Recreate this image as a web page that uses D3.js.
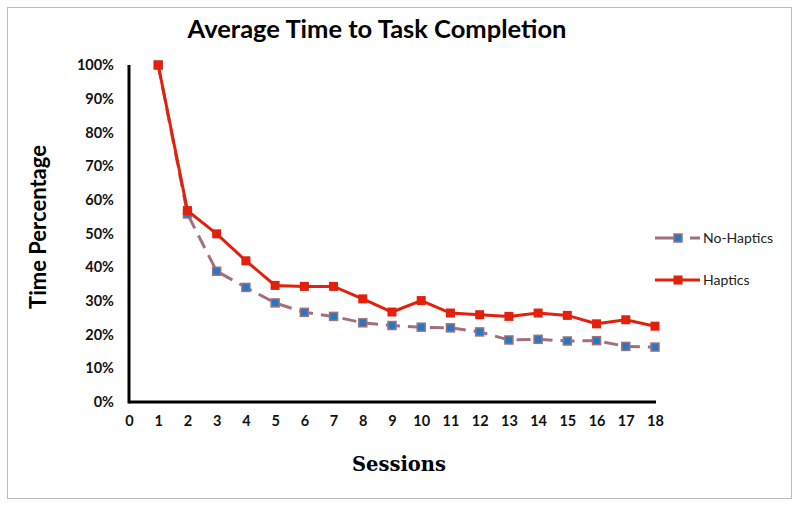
<!DOCTYPE html>
<html>
<head>
<meta charset="utf-8">
<script src="https://cdn.jsdelivr.net/npm/d3@7/dist/d3.min.js"></script>
<style>
  html, body { margin: 0; padding: 0; background: #fff; }
  svg { display: block; }
</style>
</head>
<body>
<svg id="chart" width="800" height="507"></svg>
<script>
const sessions = [1,2,3,4,5,6,7,8,9,10,11,12,13,14,15,16,17,18];
const haptics = [100,56.8,49.9,41.9,34.6,34.3,34.3,30.6,26.7,30.1,26.4,25.9,25.4,26.4,25.7,23.2,24.4,22.5];
const noHaptics = [100,55.8,38.8,34.0,29.4,26.6,25.4,23.5,22.7,22.2,22.0,20.8,18.4,18.6,18.1,18.2,16.5,16.3];
const xTicks = d3.range(0, 19);
const yTicks = [0,10,20,30,40,50,60,70,80,90,100];
const titleText = "Average Time to Task Completion";
const xLabel = "Sessions";
const yLabel = "Time Percentage";
const seriesNames = ["No-Haptics", "Haptics"];

const svg = d3.select("#chart");
const font = "Lato, 'Open Sans', sans-serif";

// outer border
svg.append("rect").attr("x", 7.5).attr("y", 7.5).attr("width", 784).attr("height", 491)
  .attr("fill", "#fff").attr("stroke", "#bdbdbd").attr("stroke-width", 1);

const x = d3.scaleLinear().domain([0, 18]).range([129, 655]);
const y = d3.scaleLinear().domain([0, 100]).range([402, 65]);

// axes
const xAxis = d3.axisBottom(x).tickValues(xTicks).tickSize(0).tickPadding(14).tickFormat(d3.format("d"));
const gx = svg.append("g").attr("transform", "translate(0,402)").call(xAxis);
gx.select(".domain").attr("stroke", "#000").attr("stroke-width", 3).attr("d", "M129,0H656");
gx.selectAll("text").attr("font-family", font).attr("font-weight", "bold").attr("font-size", 14.5).attr("fill", "#111");

const yAxis = d3.axisLeft(y).tickValues(yTicks).tickSize(0).tickPadding(15).tickFormat(d => d + "%");
const gy = svg.append("g").attr("transform", "translate(129,0)").call(yAxis);
gy.select(".domain").attr("stroke", "#000").attr("stroke-width", 3).attr("d", "M0,65V403.5");
gy.selectAll("text").attr("font-family", font).attr("font-weight", "bold").attr("font-size", 14.5).attr("fill", "#111");

// title and labels
svg.append("text").attr("x", 377).attr("y", 38).attr("text-anchor", "middle")
  .attr("font-family", font).attr("font-weight", "bold").attr("font-size", 25.5).attr("fill", "#000").text(titleText);
svg.append("text").attr("x", 399).attr("y", 471).attr("text-anchor", "middle")
  .attr("font-family", "'DejaVu Serif', 'Liberation Serif', serif").attr("font-weight", "bold").attr("font-size", 19.5).attr("fill", "#000").text(xLabel);
svg.append("text").attr("transform", "translate(46,227) rotate(-90)").attr("text-anchor", "middle")
  .attr("font-family", font).attr("font-weight", "bold").attr("font-size", 22).attr("fill", "#000").text(yLabel);

const line = d3.line().x((d, i) => x(sessions[i])).y(d => y(d));

const nhColor = "#a0707c", nhFill = "#2479c4";
const hColor = "#e3200c";

// No-Haptics
svg.append("path").datum(noHaptics).attr("d", line).attr("fill", "none")
  .attr("stroke", nhColor).attr("stroke-width", 3).attr("stroke-dasharray", "14,8");
svg.append("g").selectAll("rect").data(noHaptics).join("rect")
  .attr("x", (d, i) => x(sessions[i]) - 4).attr("y", d => y(d) - 4)
  .attr("width", 8).attr("height", 8).attr("fill", nhFill).attr("stroke", nhColor).attr("stroke-width", 1.5);

// Haptics
svg.append("path").datum(haptics).attr("d", line).attr("fill", "none")
  .attr("stroke", hColor).attr("stroke-width", 3);
svg.append("g").selectAll("rect").data(haptics).join("rect")
  .attr("x", (d, i) => x(sessions[i]) - 4.5).attr("y", d => y(d) - 4.5)
  .attr("width", 9).attr("height", 9).attr("fill", hColor);

// legend
const lg = svg.append("g");
const legendY = [238, 280];
lg.append("path").attr("d", `M655,${legendY[0]}H700`).attr("stroke", nhColor).attr("stroke-width", 3)
  .attr("stroke-dasharray", "23,12");
lg.append("rect").attr("x", 674).attr("y", legendY[0] - 4).attr("width", 8).attr("height", 8)
  .attr("fill", nhFill).attr("stroke", nhColor).attr("stroke-width", 1.5);
lg.append("path").attr("d", `M655,${legendY[1]}H700`).attr("stroke", hColor).attr("stroke-width", 3);
lg.append("rect").attr("x", 673.5).attr("y", legendY[1] - 4.5).attr("width", 9).attr("height", 9).attr("fill", hColor);
lg.selectAll("text.lab").data(seriesNames).join("text").attr("class", "lab")
  .attr("x", 703).attr("y", (d, i) => legendY[i] + 5)
  .attr("font-family", font).attr("font-size", 14).attr("fill", "#222").text(d => d);
</script>
</body>
</html>
